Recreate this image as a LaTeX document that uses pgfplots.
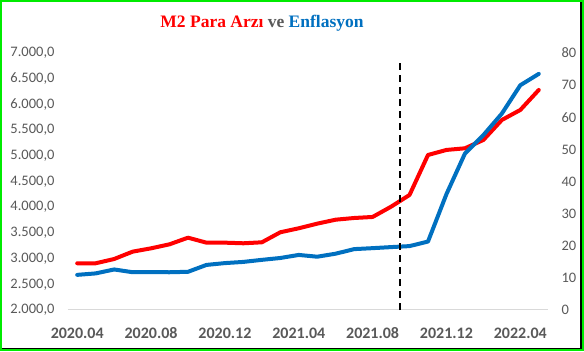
\documentclass[border=0pt]{standalone}
\usepackage{pgfplots}
\pgfplotsset{compat=1.18}
\usepackage{pgfplotstable}
\usepackage{fontspec}
\setmainfont{Carlito}
\newfontfamily\titlefont{Liberation Serif}
\definecolor{mred}{RGB}{255,0,0}
\definecolor{mblue}{RGB}{0,112,192}
\definecolor{tgray}{RGB}{89,89,89}
\definecolor{frgreen}{RGB}{0,235,0}

\pgfplotstableread{
i m2 cpi
0 2909 10.94
1 2909 11.39
2 2992 12.62
3 3135 11.76
4 3200 11.77
5 3278 11.75
6 3407 11.89
7 3310 14.03
8 3310 14.60
9 3298 14.97
10 3317 15.61
11 3512 16.19
12 3590 17.14
13 3680 16.59
14 3757 17.53
15 3790 18.95
16 3810 19.25
17 4010 19.58
18 4238 19.89
19 5016 21.31
20 5114 36.08
21 5146 48.69
22 5308 54.44
23 5697 61.14
24 5892 69.97
25 6281 73.50
}\datatable

\begin{document}
\begin{tikzpicture}[x=1pt,y=1pt]
\path[use as bounding box] (0,0) rectangle (584,351);
\fill[white] (0,0) rectangle (584,351);

\begin{axis}[at={(68pt,41pt)}, anchor=south west, scale only axis,
  width=480pt, height=257pt,
  xmin=-0.5, xmax=25.5, ymin=2000, ymax=7000,
  axis x line*=bottom, axis y line*=left,
  x axis line style={draw=black!15, line width=1pt, -},
  y axis line style={draw=none},
  major tick length=0pt,
  xtick={0,4,8,12,16,20,24},
  xticklabels={2020.04,2020.08,2020.12,2021.04,2021.08,2021.12,2022.04},
  xticklabel style={font=\fontsize{16}{18}\selectfont\bfseries, text=tgray, yshift=-14pt},
  ytick={2000,2500,3000,3500,4000,4500,5000,5500,6000,6500,7000},
  yticklabels={{2.000,0},{2.500,0},{3.000,0},{3.500,0},{4.000,0},{4.500,0},{5.000,0},{5.500,0},{6.000,0},{6.500,0},{7.000,0}},
  yticklabel style={font=\fontsize{14.5}{16}\selectfont, text=tgray, xshift=-10pt},
  clip=false,
]
\addplot[mred, line width=4pt, line join=round, line cap=round] table[x=i, y=m2] {\datatable};
\end{axis}

\begin{axis}[at={(68pt,41pt)}, anchor=south west, scale only axis,
  width=480pt, height=257pt,
  xmin=-0.5, xmax=25.5, ymin=0, ymax=80,
  axis x line=none, axis y line*=right,
  y axis line style={draw=none},
  major tick length=0pt,
  ytick={0,10,20,30,40,50,60,70,80},
  yticklabels={0,10,20,30,40,50,60,70,80},
  yticklabel style={font=\fontsize{14.5}{16}\selectfont, text=tgray, xshift=10pt},
  clip=false,
]
\addplot[mblue, line width=4pt, line join=round, line cap=round] table[x=i, y=cpi] {\datatable};
\addplot[black, line width=2pt, dash pattern=on 7pt off 5pt] coordinates {(17.5,0) (17.5,77.2)};
\end{axis}

\node[anchor=base] at (262,323)
  {\fontsize{17.5}{20}\selectfont\titlefont\bfseries\textcolor{mred}{M2 Para Arzı} \textcolor{tgray}{ve} \textcolor{mblue}{Enflasyon}};

\draw[black, line width=1.5pt] (581,0) -- (581,351);
\draw[black, line width=1.5pt] (0,2.5) -- (584,2.5);
\draw[frgreen, line width=2pt] (1,1) rectangle (583,350);
\end{tikzpicture}
\end{document}
